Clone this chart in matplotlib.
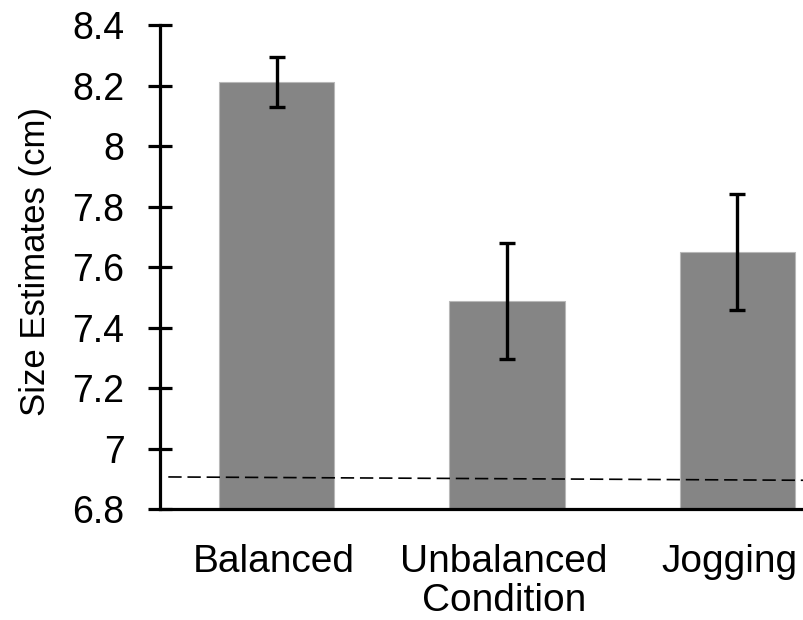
import numpy as np
import matplotlib
matplotlib.use('Agg')
import matplotlib.pyplot as plt
import matplotlib.transforms as mtransforms

plt.rcParams['font.family'] = ['Liberation Sans', 'DejaVu Sans']

# data
conditions = ['Balanced', 'Unbalanced\nCondition', 'Jogging']
means = [8.213, 7.489, 7.650]
errors = [0.082, 0.191, 0.192]
baseline = [6.907, 6.896]   # dashed reference line (slightly tilted)
yticks = [6.8, 7.0, 7.2, 7.4, 7.6, 7.8, 8.0, 8.2, 8.4]
ytick_labels = ['6.8', '7', '7.2', '7.4', '7.6', '7.8', '8', '8.2', '8.4']

fig = plt.figure(figsize=(8.04, 6.2), dpi=100)
ax = fig.add_axes([0.199, 0.1785, 0.801, 0.781])

x = np.arange(len(conditions))
ax.bar(x, means, width=0.5, color='#858585', edgecolor='#b8b8b8', linewidth=0.8, zorder=2)
ax.errorbar(x, means, yerr=errors, fmt='none', ecolor='black',
            elinewidth=2.4, capsize=5.8, capthick=2.4, zorder=4)

# dashed line across the whole plot
ax.plot([-0.47, 2.29], baseline, color='black', linewidth=1.2,
        dashes=(8, 3.5), zorder=3)

ax.set_xlim(-0.506, 2.289)
ax.set_ylim(6.8, 8.4)
ax.set_yticks(yticks)
ax.set_yticklabels(ytick_labels)
ax.set_xticks(x)
ax.set_xticklabels(conditions, linespacing=1.1)

ax.spines['top'].set_visible(False)
ax.spines['right'].set_visible(False)
ax.spines['left'].set_linewidth(2.3)
ax.spines['bottom'].set_linewidth(2.3)

ax.tick_params(axis='y', direction='inout', length=17, width=2.3,
               labelsize=27, pad=17)
ax.tick_params(axis='x', length=0, labelsize=28, pad=25)

# the category labels sit a little left of the bar centres
shifts = [-3, -3, -8]
for lab, dx in zip(ax.get_xticklabels(), shifts):
    off = mtransforms.ScaledTranslation(dx / 100, 0, fig.dpi_scale_trans)
    lab.set_transform(lab.get_transform() + off)

fig.text(35.5 / 804, 1 - 262 / 620, 'Size Estimates (cm)', rotation=90,
         ha='center', va='center', fontsize=25)

fig.savefig('out.png', dpi=100)
